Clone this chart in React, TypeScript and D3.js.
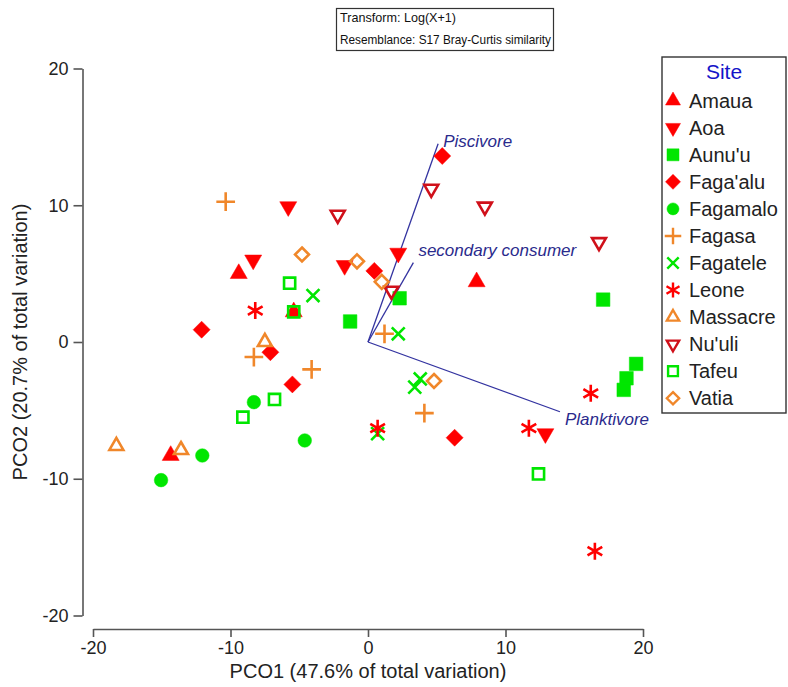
import { useEffect, useRef } from 'react';
import * as d3 from 'd3';

// site names in legend order
const sites = ['Amaua', 'Aoa', "Aunu'u", "Faga'alu", 'Fagamalo', 'Fagasa', 'Fagatele', 'Leone', 'Massacre', "Nu'uli", 'Tafeu', 'Vatia'];

// PCO1 / PCO2 scores, one array per site
const amaua = [[-9.4, 5.0], [7.9, 4.4], [-14.35, -8.3], [-5.4, 2.2]];
const aoa = [[-8.35, 6.0], [-5.8, 9.9], [2.2, 6.5], [-1.7, 5.6], [12.9, -6.7]];
const aunuu = [[2.3, 3.2], [-1.3, 1.5], [17.1, 3.1], [19.5, -1.6], [18.8, -2.65], [18.6, -3.5]];
const fagaalu = [[5.4, 13.6], [0.46, 5.2], [-12.1, 0.9], [-7.1, -0.75], [-5.5, -3.1], [6.3, -7.0]];
const fagamalo = [[-8.3, -4.4], [-12.05, -8.3], [-15.05, -10.1], [-4.6, -7.2]];
const fagasa = [[-10.35, 10.26], [-8.3, -1.1], [1.2, 0.6], [-4.1, -2.0], [4.1, -5.2]];
const fagatele = [[-4.0, 3.4], [2.2, 0.6], [3.8, -2.7], [3.4, -3.3], [0.7, -6.7]];
const leone = [[-8.2, 2.3], [0.7, -6.3], [16.2, -3.75], [11.7, -6.3], [16.5, -15.3]];
const massacre = [[-7.5, 0.0], [-18.3, -7.6], [-13.6, -7.9]];
const nuuli = [[4.6, 11.2], [-2.2, 9.3], [1.7, 3.75], [8.5, 9.9], [16.8, 7.3]];
const tafeu = [[-5.7, 4.3], [-5.4, 2.2], [-6.8, -4.2], [-9.1, -5.5], [12.4, -9.65]];
const vatia = [[-4.8, 6.4], [-0.8, 5.9], [1.0, 4.4], [4.8, -2.85]];

const siteData = [amaua, aoa, aunuu, fagaalu, fagamalo, fagasa, fagatele, leone, massacre, nuuli, tafeu, vatia];

// vector overlay (correlations)
const vecNames = ['Piscivore', 'secondary consumer', 'Planktivore'];
const vecX = [5.1, 3.3, 13.96];
const vecY = [14.5, 5.8, -5.1];

const ticks = [-20, -10, 0, 10, 20];

const RED = '#ff0000';
const GREEN = '#00e600';
const ORANGE = '#f0872a';
const DARKRED = '#d0101a';

type Shape = 'triUp' | 'triDown' | 'square' | 'diamond' | 'circle' | 'plus' | 'cross' | 'star';
const styles: { shape: Shape; color: string; fill: boolean }[] = [
  { shape: 'triUp', color: RED, fill: true },
  { shape: 'triDown', color: RED, fill: true },
  { shape: 'square', color: GREEN, fill: true },
  { shape: 'diamond', color: RED, fill: true },
  { shape: 'circle', color: GREEN, fill: true },
  { shape: 'plus', color: ORANGE, fill: false },
  { shape: 'cross', color: GREEN, fill: false },
  { shape: 'star', color: RED, fill: false },
  { shape: 'triUp', color: ORANGE, fill: false },
  { shape: 'triDown', color: DARKRED, fill: false },
  { shape: 'square', color: GREEN, fill: false },
  { shape: 'diamond', color: ORANGE, fill: false },
];

function markerPath(shape: Shape, s: number, filled: boolean) {
  const p = d3.path();
  const k = filled ? 1 : 0.82;
  if (shape === 'triUp' || shape === 'triDown') {
    const w = s * k;
    const h = w * 0.866;
    const sg = shape === 'triUp' ? 1 : -1;
    p.moveTo(0, (-2 * h / 3) * sg);
    p.lineTo(w / 2, (h / 3) * sg);
    p.lineTo(-w / 2, (h / 3) * sg);
    p.closePath();
  } else if (shape === 'square') {
    const a = s * 0.8 * k / 2;
    p.rect(-a, -a, 2 * a, 2 * a);
  } else if (shape === 'diamond') {
    const a = s * 0.5 * k;
    p.moveTo(0, -a); p.lineTo(a, 0); p.lineTo(0, a); p.lineTo(-a, 0); p.closePath();
  } else if (shape === 'circle') {
    const r = s * 0.4;
    p.arc(0, 0, r, 0, Math.PI * 2);
  } else if (shape === 'plus') {
    const a = s * 0.55;
    p.moveTo(-a, 0); p.lineTo(a, 0); p.moveTo(0, -a); p.lineTo(0, a);
  } else if (shape === 'cross') {
    const a = s * 0.38;
    p.moveTo(-a, -a); p.lineTo(a, a); p.moveTo(-a, a); p.lineTo(a, -a);
  } else {
    const a = s * 0.5;
    for (const ang of [90, 30, 150]) {
      const r = (ang * Math.PI) / 180;
      p.moveTo(-a * Math.cos(r), -a * Math.sin(r));
      p.lineTo(a * Math.cos(r), a * Math.sin(r));
    }
  }
  return p.toString();
}

export default function App() {
  const svgRef = useRef<SVGSVGElement>(null);

  useEffect(() => {
    if (!svgRef.current) return;
    const svg = d3.select(svgRef.current);
    svg.selectAll('*').remove();

    const font = '"Liberation Sans", Arial, sans-serif';
    const x = d3.scaleLinear().domain([-20, 20]).range([93, 643]);
    const y = d3.scaleLinear().domain([-20, 20]).range([615.5, 68.5]);
    const fmt = (d: d3.NumberValue) => String(d);

    // axes
    const yAxis = svg.append('g')
      .attr('transform', 'translate(82.5,0)')
      .call(d3.axisLeft(y).tickValues(ticks).tickFormat(fmt).tickSize(9).tickSizeOuter(0).tickPadding(5));
    const xAxis = svg.append('g')
      .attr('transform', 'translate(0,629)')
      .call(d3.axisBottom(x).tickValues(ticks).tickFormat(fmt).tickSize(8).tickSizeOuter(0).tickPadding(4));
    [xAxis, yAxis].forEach(a => {
      a.selectAll('.domain, .tick line').attr('stroke', '#555').attr('stroke-width', 1.6);
      a.selectAll('text').attr('fill', '#222').style('font-size', '18px').style('font-family', font);
    });

    svg.append('text')
      .attr('x', 368).attr('y', 678)
      .attr('text-anchor', 'middle')
      .style('font-size', '20px').style('font-family', font).attr('fill', '#222')
      .text('PCO1 (47.6% of total variation)');
    svg.append('text')
      .attr('transform', 'translate(27,342) rotate(-90)')
      .attr('text-anchor', 'middle')
      .style('font-size', '20px').style('font-family', font).attr('fill', '#222')
      .text('PCO2 (20.7% of total variation)');

    // vectors
    const vg = svg.append('g');
    const labelDx = [5, 5, 5];
    const labelDy = [3, -7, 13];
    vecNames.forEach((n, i) => {
      vg.append('line')
        .attr('x1', x(0)).attr('y1', y(0))
        .attr('x2', x(vecX[i])).attr('y2', y(vecY[i]))
        .attr('stroke', '#3333a0').attr('stroke-width', 1.3);
      vg.append('text')
        .attr('x', x(vecX[i]) + labelDx[i]).attr('y', y(vecY[i]) + labelDy[i])
        .style('font-size', '17px').style('font-style', 'italic').style('font-family', font)
        .attr('fill', '#2a2a8c')
        .text(n);
    });

    // points
    const pg = svg.append('g');
    siteData.forEach((pts, i) => {
      const st = styles[i];
      pg.selectAll(null)
        .data(pts)
        .enter()
        .append('path')
        .attr('transform', d => `translate(${x(d[0])},${y(d[1])})`)
        .attr('d', markerPath(st.shape, 17, st.fill))
        .attr('fill', st.fill ? st.color : 'none')
        .attr('stroke', st.color)
        .attr('stroke-width', st.fill ? 0.5 : 2.6)
        .attr('stroke-linejoin', 'miter');
    });

    // header box
    const hg = svg.append('g');
    hg.append('rect').attr('x', 336.5).attr('y', 8.5).attr('width', 217).attr('height', 42)
      .attr('fill', 'white').attr('stroke', '#333').attr('stroke-width', 1.2);
    hg.append('text').attr('x', 340).attr('y', 22).style('font-size', '12.6px').style('font-family', font)
      .attr('fill', '#111').text('Transform: Log(X+1)');
    hg.append('text').attr('x', 340).attr('y', 44).attr('textLength', 211).attr('lengthAdjust', 'spacingAndGlyphs')
      .style('font-size', '12.6px').style('font-family', font)
      .attr('fill', '#111').text('Resemblance: S17 Bray-Curtis similarity');

    // legend
    const lg = svg.append('g');
    lg.append('rect').attr('x', 662).attr('y', 57).attr('width', 124).attr('height', 356)
      .attr('fill', 'white').attr('stroke', '#333').attr('stroke-width', 1.4);
    lg.append('text').attr('x', 724).attr('y', 79).attr('text-anchor', 'middle')
      .style('font-size', '21px').style('font-family', font).attr('fill', '#1414c8').text('Site');
    sites.forEach((s, i) => {
      const st = styles[i];
      const cy = 100.7 + i * 27.05;
      lg.append('path')
        .attr('transform', `translate(673,${cy})`)
        .attr('d', markerPath(st.shape, 15, st.fill))
        .attr('fill', st.fill ? st.color : 'none')
        .attr('stroke', st.color)
        .attr('stroke-width', st.fill ? 0.5 : 2.4);
      lg.append('text').attr('x', 689).attr('y', cy + 7)
        .style('font-size', '20px').style('font-family', font).attr('fill', '#222').text(s);
    });
  }, []);

  return (
    <div style={{ position: 'absolute', left: 0, top: 0, background: 'white' }}>
      <svg ref={svgRef} width={788} height={687} style={{ display: 'block' }} />
    </div>
  );
}
